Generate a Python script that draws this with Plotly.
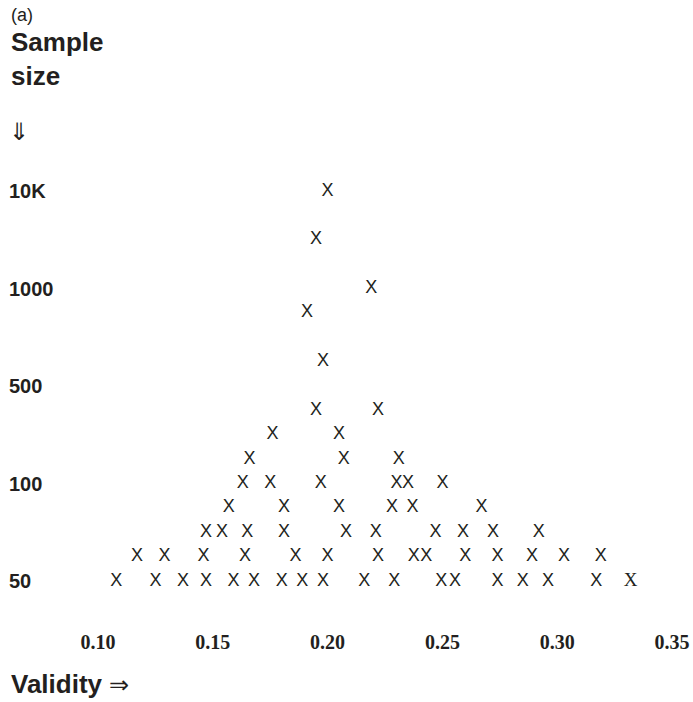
import plotly.graph_objects as go

# Sample-size row levels (ordinal axis: 50=0, 100=4, 500=8, 1000=12, 10K=16)
tick_levels = [0, 4, 8, 12, 16]
tick_labels = ["50", "100", "500", "1000", "10K"]
x_ticks = [0.10, 0.15, 0.20, 0.25, 0.30, 0.35]

row_levels = [16, 14, 12, 11, 9, 7, 6, 5, 4, 3, 2, 1, 0]
row_validities = [
    [0.200],
    [0.195],
    [0.219],
    [0.191],
    [0.198],
    [0.195, 0.222],
    [0.176, 0.205],
    [0.166, 0.207, 0.231],
    [0.163, 0.175, 0.197, 0.230, 0.235, 0.250],
    [0.157, 0.181, 0.205, 0.228, 0.237, 0.267],
    [0.147, 0.154, 0.165, 0.181, 0.208, 0.221, 0.247, 0.259, 0.272, 0.292],
    [0.117, 0.129, 0.146, 0.164, 0.186, 0.200, 0.222, 0.2375, 0.243, 0.260,
     0.274, 0.289, 0.303, 0.319],
    [0.108, 0.125, 0.137, 0.147, 0.159, 0.168, 0.180, 0.189, 0.198, 0.216,
     0.229, 0.2495, 0.2555, 0.274, 0.285, 0.296, 0.317],
]
# one mark at the far right printed in a serif face
serif_validity = [0.332]
serif_level = [0]

INK = "#231f20"

xs, ys = [], []
for lvl, vals in zip(row_levels, row_validities):
    for v in vals:
        xs.append(v)
        ys.append(lvl)

fig = go.Figure()
fig.add_trace(go.Scatter(
    x=xs, y=ys, mode="text", text=["X"] * len(xs),
    textposition="middle center",
    textfont=dict(family="Liberation Sans, Arial, sans-serif", size=18, color=INK),
    hoverinfo="x+y", showlegend=False,
))
fig.add_trace(go.Scatter(
    x=serif_validity, y=serif_level, mode="text", text=["X"] * len(serif_validity),
    textposition="middle center",
    textfont=dict(family="Liberation Serif, Times New Roman, serif", size=19, color=INK),
    showlegend=False,
))

W, H = 693, 702
L_M, R_M, T_M, B_M = 6, 0, 150, 74
pw = W - L_M - R_M
ph = H - T_M - B_M
px_per_unit = 2296.0
x0 = 0.10 + (L_M - 98) / px_per_unit
x1 = 0.10 + (W - R_M - 98) / px_per_unit
px_per_level = 24.375
y_top = (581 - T_M) / px_per_level
y_bot = (581 - (H - B_M)) / px_per_level


def xp(px):
    return (px - L_M) / pw


def yp(py):
    return (H - B_M - py) / ph


sans = "Liberation Sans, Arial, sans-serif"
annots = [
    dict(text="(a)", x=xp(9), y=yp(15), size=18),
    dict(text="<b>Sample</b>", x=xp(9), y=yp(42), size=26),
    dict(text="<b>size</b>", x=xp(9), y=yp(76), size=26),
    dict(text="⇓", x=xp(7), y=yp(131), size=24),
    dict(text="<b>Validity</b> <span style='font-size:24px'>⇒</span>", x=xp(9), y=yp(684), size=26),
]
for a in annots:
    fig.add_annotation(
        text=a["text"], x=a["x"], y=a["y"], xref="paper", yref="paper",
        xanchor="left", yanchor="middle", showarrow=False,
        font=dict(family=sans, size=a["size"], color=INK),
    )

fig.update_layout(
    width=W, height=H,
    margin=dict(l=L_M, r=R_M, t=T_M, b=B_M),
    paper_bgcolor="white", plot_bgcolor="white",
    xaxis=dict(
        range=[x0, x1], tickvals=x_ticks,
        ticktext=[f"<b>{v:.2f}</b>" for v in x_ticks],
        showgrid=False, zeroline=False, showline=False, ticks="",
        tickfont=dict(family="Liberation Serif, Times New Roman, serif", size=20, color=INK),
    ),
    yaxis=dict(
        range=[y_bot, y_top], tickvals=tick_levels,
        ticktext=[f"<b>{t}</b>" for t in tick_labels],
        ticklabelposition="inside",
        showgrid=False, zeroline=False, showline=False, ticks="",
        tickfont=dict(family=sans, size=20, color=INK),
    ),
)

fig.write_html("out.html")
